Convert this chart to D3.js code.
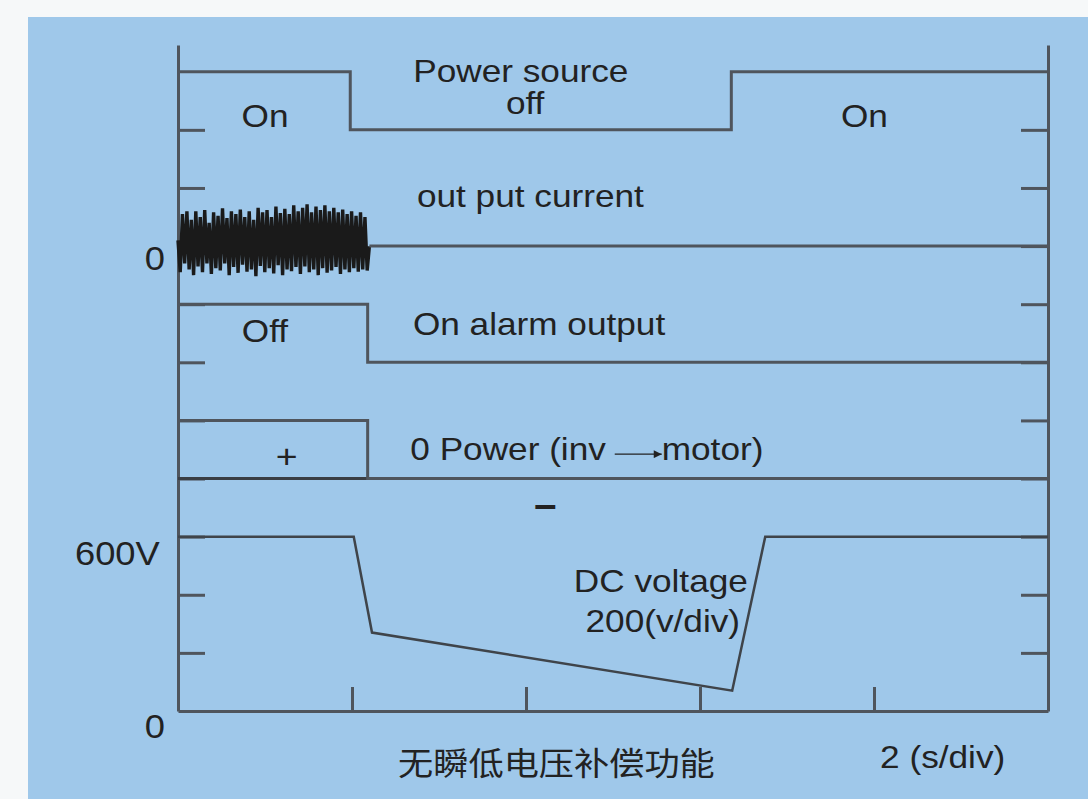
<!DOCTYPE html>
<html>
<head>
<meta charset="utf-8">
<script src="https://cdn.jsdelivr.net/npm/d3@7"></script>
<style>
  html, body { margin: 0; padding: 0; background: #f6f8f9; }
  svg { display: block; }
  text { font-family: "Liberation Sans", Arial, sans-serif; fill: #222; }
</style>
</head>
<body>
<svg class="chart" width="1088" height="799"></svg>
<script>
// time axis, 2 s per division
var timeTicks = [2, 4, 6, 8];
// vertical divisions shared by all traces
var divTicks = [1, 2, 3, 4, 5, 6, 7, 8, 9, 10];

// power source: 1 = on, 0 = off
var powerTimes = [0, 1.98, 6.36, 10];
var powerStates = [1, 0, 1, 1];

// output current, oscillating until ~2.2 s, then zero
var currentTimes = [0, 2.2, 10];
var currentWave = [
  0.1, -0.45, 0.55, -0.3, 0.6, -0.4, 0.45, -0.5, 0.6, -0.35,
  0.5, -0.45, 0.62, -0.3, 0.4, -0.48, 0.58, -0.38, 0.52, -0.42,
  0.65, -0.3, 0.48, -0.5, 0.6, -0.36, 0.55, -0.46, 0.63, -0.32,
  0.5, -0.44, 0.6, -0.4, 0.45, -0.52, 0.66, -0.34, 0.58, -0.45,
  0.62, -0.38, 0.5, -0.47, 0.68, -0.33, 0.57, -0.5, 0.64, -0.4,
  0.55, -0.43, 0.7, -0.36, 0.6, -0.48, 0.66, -0.35, 0.72, -0.45,
  0.58, -0.4, 0.68, -0.5, 0.62, -0.38, 0.7, -0.46, 0.6, -0.42,
  0.66, -0.36, 0.58, -0.48, 0.63, -0.4, 0.55, -0.45, 0.6, -0.38,
  0.52, -0.44, 0.58, -0.4, 0.5, -0.42, 0.0
];

// alarm output: 1 = off (high), 0 = on
var alarmTimes = [0, 2.18, 10];
var alarmStates = [1, 0, 0];

// power inv -> motor: 1 = +, 0 = zero
var motorTimes = [0, 2.18, 10];
var motorStates = [1, 0, 0];

// DC bus voltage (V), 200 V per division
var dcTimes = [0, 2.02, 2.23, 6.37, 6.75, 10];
var dcVolts = [600, 600, 270, 70, 600, 600];

var svg = d3.select(".chart");
var W = 1088, H = 799;
var lineColor = "#4f555d";
var stretch = 1.1;

svg.append("rect")
  .attr("x", 28).attr("y", 17)
  .attr("width", W - 28).attr("height", H - 17)
  .attr("fill", "#9fc8ea");

var x = d3.scaleLinear().domain([0, 10]).range([178, 1048]);
var y = d3.scaleLinear().domain([0, 11.46]).range([711, 45]);

// axes
svg.append("g")
  .attr("transform", "translate(" + x(0) + ",0)")
  .attr("color", lineColor)
  .call(d3.axisLeft(y).tickValues(divTicks).tickSizeInner(-27).tickSizeOuter(0).tickFormat(""))
  .selectAll("path,line").attr("stroke-width", 3);

svg.append("g")
  .attr("transform", "translate(" + x(10) + ",0)")
  .attr("color", lineColor)
  .call(d3.axisRight(y).tickValues(divTicks).tickSizeInner(-27).tickSizeOuter(0).tickFormat(""))
  .selectAll("path,line").attr("stroke-width", 3);

svg.append("g")
  .attr("transform", "translate(0," + y(0) + ")")
  .attr("color", lineColor)
  .call(d3.axisBottom(x).tickValues(timeTicks).tickSizeInner(-24).tickSizeOuter(0).tickFormat(""))
  .selectAll("path,line").attr("stroke-width", 3);

// step traces
function stepTrace(times, states, low, high, color, width) {
  var pts = times.map(function (t, i) { return [t, states[i] ? high : low]; });
  var gen = d3.line()
    .x(function (d) { return x(d[0]); })
    .y(function (d) { return y(d[1]); })
    .curve(d3.curveStepAfter);
  svg.append("path")
    .attr("d", gen(pts))
    .attr("fill", "none")
    .attr("stroke", color)
    .attr("stroke-width", width);
}

stepTrace(powerTimes, powerStates, 10, 11, lineColor, 3);
stepTrace(alarmTimes, alarmStates, 6, 7, lineColor, 3);
// zero line of the power trace
stepTrace([0, 10], [0, 0], 4, 5, "#3a3e44", 3);
stepTrace(motorTimes, motorStates, 4, 5, lineColor, 3);

// output current
var curLine = d3.line()
  .x(function (d) { return x(d[0]); })
  .y(function (d) { return y(8 + d[1]); });
var noiseStep = (currentTimes[1] - currentTimes[0]) / (currentWave.length - 1);
svg.append("path")
  .attr("d", curLine(currentWave.map(function (v, i) { return [currentTimes[0] + i * noiseStep, v]; })))
  .attr("fill", "none")
  .attr("stroke", "#1a1a1a")
  .attr("stroke-width", 3.4)
  .attr("stroke-linejoin", "bevel");
svg.append("path")
  .attr("d", curLine([[currentTimes[1], 0], [currentTimes[2], 0]]))
  .attr("fill", "none")
  .attr("stroke", lineColor)
  .attr("stroke-width", 3);

// DC voltage
var dcLine = d3.line()
  .x(function (d) { return x(d); })
  .y(function (d, i) { return y(dcVolts[i] / 200); });
svg.append("path")
  .attr("d", dcLine(dcTimes))
  .attr("fill", "none")
  .attr("stroke", "#3f444a")
  .attr("stroke-width", 2.5);

// labels
function label(txt, t, d, anchor, size, family) {
  return svg.append("text")
    .attr("transform", "translate(" + x(t) + "," + y(d) + ") scale(" + stretch + ",1)")
    .attr("text-anchor", anchor)
    .style("font-size", (size || 32) + "px")
    .style("font-family", family || null)
    .text(txt);
}

label("On", 1.0, 10.05, "middle");
label("Power source", 3.94, 10.82, "middle");
label("off", 3.99, 10.28, "middle");
label("On", 7.89, 10.05, "middle");
label("out put current", 4.05, 8.67, "middle");
label("0", -0.15, 7.59, "end", 33);
label("Off", 1.0, 6.35, "middle");
label("On alarm output", 2.7, 6.47, "start");
label("+", 1.25, 4.18, "middle", 34);
label("0 Power (inv", 2.67, 4.32, "start");
label("motor)", 5.56, 4.32, "start");
label("\u2212", 4.22, 3.3, "middle", 36).style("font-weight", "bold");
label("600V", -0.21, 2.51, "end", 33);
label("0", -0.15, -0.46, "end", 33);
label("DC voltage", 6.55, 2.05, "end");
label("200(v/div)", 6.46, 1.36, "end");
label("无瞬低电压补偿功能", 2.53, -1.1, "start", 32, "'Noto Sans CJK SC', sans-serif");
label("2 (s/div)", 8.07, -0.98, "start");

// arrow inside "inv -> motor"
svg.append("defs").append("marker")
  .attr("id", "head")
  .attr("viewBox", "0 0 10 10")
  .attr("refX", 10).attr("refY", 5)
  .attr("markerWidth", 10).attr("markerHeight", 8)
  .attr("markerUnits", "userSpaceOnUse")
  .attr("orient", "auto")
  .append("path")
  .attr("d", "M0,0L10,5L0,10z")
  .attr("fill", "#222");
svg.append("line")
  .attr("x1", x(5.02)).attr("x2", x(5.56))
  .attr("y1", y(4.42)).attr("y2", y(4.42))
  .attr("stroke", "#222")
  .attr("stroke-width", 1.2)
  .attr("marker-end", "url(#head)");
</script>
</body>
</html>
